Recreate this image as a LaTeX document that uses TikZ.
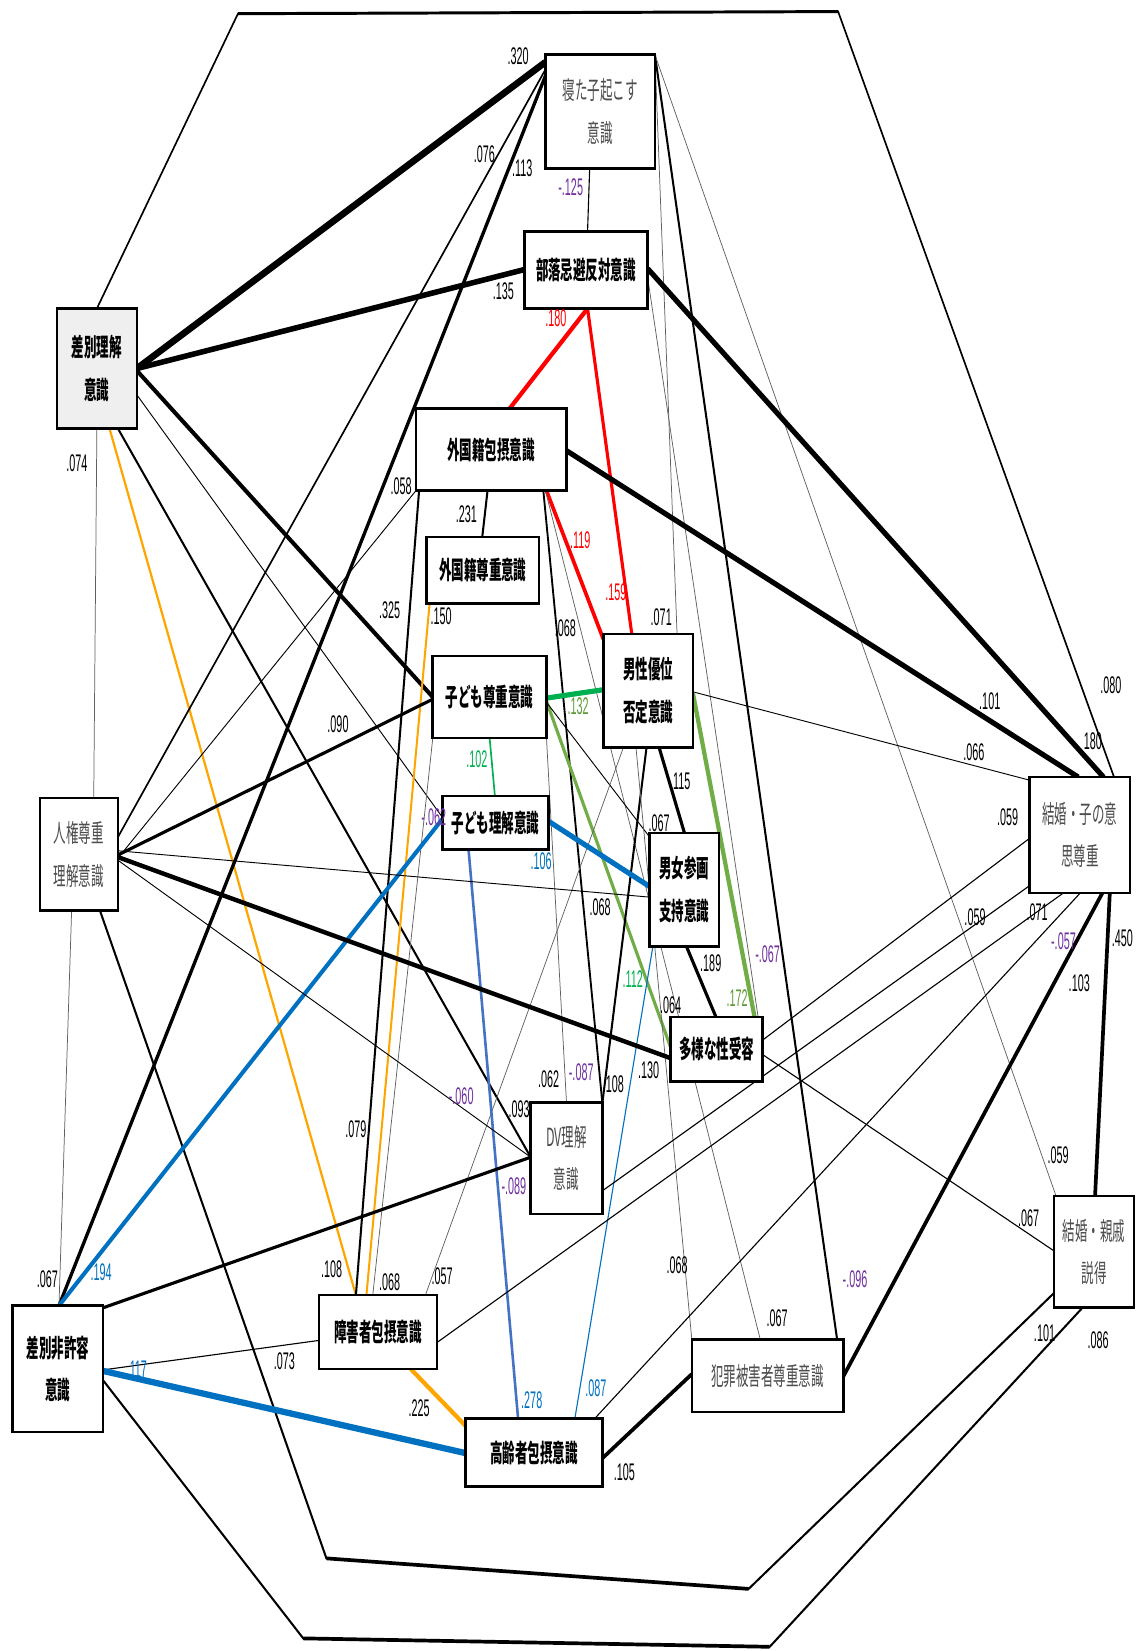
\documentclass[tikz,border=0pt]{standalone}
\usepackage{fontspec}
\newfontfamily\jpfont[FakeStretch=0.50]{Noto Sans CJK JP}
\newfontfamily\numfont[FakeStretch=0.45]{Liberation Sans}
\definecolor{cred}{HTML}{FF0000}
\definecolor{cgreen}{HTML}{00B050}
\definecolor{colive}{HTML}{70AD47}
\definecolor{colivelab}{HTML}{5E9C36}
\definecolor{cblue}{HTML}{0070C0}
\definecolor{cblue2}{HTML}{4472C4}
\definecolor{corange}{HTML}{FFA500}
\definecolor{cpurple}{HTML}{7030A0}
\definecolor{txtgray}{HTML}{4D4D4D}
\definecolor{fillgray}{HTML}{EFEFEF}
\definecolor{thingray}{HTML}{606060}
\pgfdeclarelayer{bg}
\pgfsetlayers{bg,main}
\begin{document}
\begin{tikzpicture}[x=0.02cm,y=-0.02cm,
 nbox/.style={draw, line width=1.4pt, fill=white, inner sep=0pt, outer sep=0pt, align=center, font=\jpfont\bfseries\fontsize{13.5pt}{23pt}\selectfont},
 gnbox/.style={nbox, font=\jpfont\fontsize{13.5pt}{23pt}\selectfont, text=txtgray},
 nlab/.style={inner sep=0pt, font=\numfont\fontsize{13pt}{15pt}\selectfont},
 plab/.style={nlab, text=cpurple},
 blab/.style={nlab, text=cblue},
 rlab/.style={nlab, text=cred},
 glab/.style={nlab, text=cgreen},
 olab/.style={nlab, text=colivelab}]
\useasboundingbox (0,0) rectangle (1082,1568);

% boxes
\node[gnbox, minimum width=2.08cm, minimum height=2.16cm] (n1) at (570,106) {寝た子起こす\\意識};
\node[nbox, minimum width=2.34cm, minimum height=1.46cm] (n2) at (556.5,256.5) {部落忌避反対意識};
\node[nbox, fill=fillgray, minimum width=1.52cm, minimum height=2.28cm] (n3) at (92,350) {差別理解\\意識};
\node[nbox, minimum width=2.86cm, minimum height=1.56cm] (n4) at (466.5,427) {外国籍包摂意識};
\node[nbox, minimum width=2.14cm, minimum height=1.26cm] (n5) at (458.5,541.5) {外国籍尊重意識};
\node[nbox, minimum width=2.16cm, minimum height=1.56cm] (n6) at (465,662) {子ども尊重意識};
\node[nbox, minimum width=1.70cm, minimum height=2.16cm] (n7) at (615.5,656) {男性優位\\否定意識};
\node[nbox, minimum width=2.02cm, minimum height=1.02cm] (n8) at (470.5,781.5) {子ども理解意識};
\node[nbox, minimum width=1.32cm, minimum height=2.16cm] (n9) at (650,845) {男女参画\\支持意識};
\node[nbox, minimum width=1.74cm, minimum height=1.22cm] (n10) at (680.5,996.5) {多様な性受容};
\node[gnbox, minimum width=1.48cm, minimum height=2.14cm] (n11) at (75,811.5) {人権尊重\\理解意識};
\node[gnbox, minimum width=1.36cm, minimum height=2.12cm] (n12) at (538,1100) {DV理解\\意識};
\node[gnbox, minimum width=1.90cm, minimum height=2.20cm] (n13) at (1025.5,793) {結婚・子の意\\思尊重};
\node[gnbox, minimum width=1.52cm, minimum height=2.12cm] (n14) at (1039,1189) {結婚・親戚\\説得};
\node[nbox, minimum width=1.72cm, minimum height=2.40cm] (n15) at (55,1300) {差別非許容\\意識};
\node[nbox, minimum width=2.24cm, minimum height=1.40cm] (n16) at (359,1265) {障害者包摂意識};
\node[nbox, minimum width=2.60cm, minimum height=1.30cm] (n17) at (507,1379.5) {高齢者包摂意識};
\node[gnbox, minimum width=2.88cm, minimum height=1.38cm] (n18) at (729,1306.5) {犯罪被害者尊重意識};

\coordinate (c1) at (226,13);
\coordinate (c2) at (796,11);
\coordinate (c3) at (310,1480);
\coordinate (c4) at (711,1509);
\coordinate (c5) at (288,1556);
\coordinate (c6) at (731,1564);

\begin{pgfonlayer}{bg}
% outer frames
\draw[line width=0.9pt] ([shift={(38,0)}]n3.north west) -- (c1) -- (c2) -- ([shift={(80,0)}]n13.north west);
\draw[line width=1.6pt] (c1) -- (c2);
\draw[line width=1.1pt] ([shift={(57,107)}]n11.north west) -- (c3) -- (c4) -- ([shift={(0,92)}]n14.north west);
\draw[line width=2pt] (c3) -- (c4);
\draw[line width=1.1pt] ([shift={(86,71)}]n15.north west) -- (c5) -- (c6) -- ([shift={(27,106)}]n14.north west);
\draw[line width=2pt] (c5) -- (c6);
% from n3
\draw[line width=3.6pt] ([shift={(76,57)}]n3.north west) -- ([shift={(0,7)}]n1.north west);
\draw[line width=3pt] ([shift={(76,57)}]n3.north west) -- ([shift={(0,36)}]n2.north west);
\draw[line width=2.2pt] ([shift={(76,59)}]n3.north west) -- ([shift={(0,39)}]n6.north west);
\draw[line width=0.5pt] ([shift={(76,82)}]n3.north west) -- ([shift={(0,20)}]n8.north west);
\draw[line width=1.1pt] ([shift={(58,114)}]n3.north west) -- ([shift={(0,52)}]n12.north west);
\draw[corange, line width=1.2pt] ([shift={(50,114)}]n3.north west) -- ([shift={(35,0)}]n16.north west);
\draw[thingray, line width=0.4pt] ([shift={(38,114)}]n3.north west) -- ([shift={(51,0)}]n11.north west);
% from n1
\draw[line width=0.9pt] ([shift={(0,14)}]n1.north west) -- ([shift={(74,37)}]n11.north west);
\draw[line width=1.8pt] ([shift={(0,20)}]n1.north west) -- ([shift={(44,0)}]n15.north west);
\draw[line width=0.6pt] ([shift={(42,108)}]n1.north west) -- ([shift={(60,0)}]n2.north west);
\draw[thingray, line width=0.4pt] (n1.north east) -- ([shift={(70,0)}]n7.north west);
\draw[line width=1.1pt] (n1.north east) -- ([shift={(138,0)}]n18.north west);
\draw[thingray, line width=0.4pt] (n1.north east) -- ([shift={(2,0)}]n14.north west);
% from n2
\draw[cred, line width=2.3pt] ([shift={(60,73)}]n2.north west) -- ([shift={(89,0)}]n4.north west);
\draw[cred, line width=1.7pt] ([shift={(60,73)}]n2.north west) -- ([shift={(27,0)}]n7.north west);
\draw[line width=2.8pt] ([shift={(117,35)}]n2.north west) -- ([shift={(70,0)}]n13.north west);
\draw[thingray, line width=0.4pt] ([shift={(117,43)}]n2.north west) -- ([shift={(83,0)}]n10.north west);
% from n4
\draw[line width=1.1pt] ([shift={(68,78)}]n4.north west) -- ([shift={(53,0)}]n5.north west);
\draw[cred, line width=2pt] ([shift={(124,78)}]n4.north west) -- ([shift={(0,5)}]n7.north west);
\draw[line width=1pt] ([shift={(121,78)}]n4.north west) -- ([shift={(68,0)}]n12.north west);
\draw[thingray, line width=0.4pt] ([shift={(123,78)}]n4.north west) -- ([shift={(65,0)}]n18.north west);
\draw[line width=2.8pt] ([shift={(143,40)}]n4.north west) -- ([shift={(46,0)}]n13.north west);
\draw[line width=0.5pt] ([shift={(0,78)}]n4.north west) -- ([shift={(74,57)}]n11.north west);
\draw[line width=1.1pt] ([shift={(3,78)}]n4.north west) -- ([shift={(35,0)}]n16.north west);
% from n5
\draw[corange, line width=1.1pt] ([shift={(3,63)}]n5.north west) -- ([shift={(45,0)}]n16.north west);
% from n6
\draw[cgreen, line width=2.8pt] ([shift={(108,40)}]n6.north west) -- ([shift={(0,53)}]n7.north west);
\draw[cgreen, line width=0.9pt] ([shift={(54,78)}]n6.north west) -- ([shift={(50,0)}]n8.north west);
\draw[colive, line width=1.7pt] ([shift={(108,43)}]n6.north west) -- ([shift={(0,29)}]n10.north west);
\draw[line width=0.5pt] ([shift={(108,44)}]n6.north west) -- ([shift={(0,4)}]n9.north west);
\draw[thingray, line width=0.4pt] ([shift={(108,78)}]n6.north west) -- ([shift={(34,0)}]n12.north west);
\draw[thingray, line width=0.4pt] ([shift={(0,78)}]n6.north west) -- ([shift={(51,0)}]n16.north west);
% from n7
\draw[line width=0.5pt] ([shift={(85,55)}]n7.north west) -- ([shift={(0,3)}]n13.north west);
\draw[colive, line width=2.3pt] ([shift={(85,56)}]n7.north west) -- ([shift={(80,2)}]n10.north west);
\draw[line width=1.7pt] ([shift={(53,108)}]n7.north west) -- ([shift={(33,0)}]n9.north west);
\draw[line width=1.1pt] ([shift={(41,108)}]n7.north west) -- ([shift={(68,1)}]n12.north west);
\draw[thingray, line width=0.4pt] ([shift={(19,108)}]n7.north west) -- ([shift={(101,0)}]n16.north west);
\draw[thingray, line width=0.4pt] ([shift={(31,108)}]n7.north west) -- (n18.north west);
% from n8, n9
\draw[cblue, line width=2.8pt] ([shift={(101,24)}]n8.north west) -- ([shift={(0,51)}]n9.north west);
\draw[cblue, line width=2.2pt] ([shift={(0,22)}]n8.north west) -- ([shift={(44,0)}]n15.north west);
\draw[cblue2, line width=1.4pt] ([shift={(25,51)}]n8.north west) -- ([shift={(50,0)}]n17.north west);
\draw[line width=1.7pt] ([shift={(35,108)}]n9.north west) -- ([shift={(43,0)}]n10.north west);
\draw[cblue, line width=0.6pt] ([shift={(3,108)}]n9.north west) -- ([shift={(104,0)}]n17.north west);
% from n11
\draw[line width=1.7pt] ([shift={(74,54)}]n11.north west) -- ([shift={(0,41)}]n6.north west);
\draw[line width=0.5pt] ([shift={(74,50)}]n11.north west) -- ([shift={(0,61)}]n9.north west);
\draw[line width=2.4pt] ([shift={(74,56)}]n11.north west) -- ([shift={(0,39)}]n10.north west);
\draw[line width=0.5pt] ([shift={(74,59)}]n11.north west) -- ([shift={(0,52)}]n12.north west);
\draw[thingray, line width=0.4pt] ([shift={(30,107)}]n11.north west) -- ([shift={(44,0)}]n15.north west);
% from n15
\draw[line width=1.7pt] ([shift={(86,2)}]n15.north west) -- ([shift={(0,52)}]n12.north west);
\draw[line width=0.6pt] ([shift={(86,61)}]n15.north west) -- ([shift={(0,43)}]n16.north west);
\draw[cblue, line width=3.4pt] ([shift={(86,62)}]n15.north west) -- ([shift={(0,33)}]n17.north west);
% others
\draw[corange, line width=2.3pt] ([shift={(87,70)}]n16.north west) -- ([shift={(0,7)}]n17.north west);
\draw[line width=0.6pt] ([shift={(112,45)}]n16.north west) -- ([shift={(32,110)}]n13.north west);
\draw[line width=0.6pt] ([shift={(68,84)}]n12.north west) -- ([shift={(0,103)}]n13.north west);
\draw[line width=0.6pt] ([shift={(0,58)}]n13.north west) -- ([shift={(87,22)}]n10.north west);
\draw[line width=0.6pt] ([shift={(48,110)}]n13.north west) -- ([shift={(123,0)}]n17.north west);
\draw[line width=2pt] ([shift={(69,110)}]n13.north west) -- ([shift={(144,35)}]n18.north west);
\draw[line width=2pt] ([shift={(76,110)}]n13.north west) -- ([shift={(39,0)}]n14.north west);
\draw[line width=0.6pt] ([shift={(0,52)}]n14.north west) -- ([shift={(85,34)}]n10.north west);
\draw[line width=2pt] ([shift={(130,38)}]n17.north west) -- ([shift={(0,33)}]n18.north west);
\end{pgfonlayer}

% labels
\node[nlab] (t1) at (492,53) {.320};
\node[nlab] (t2) at (460,146) {.076};
\node[nlab] (t3) at (496,160) {.113};
\node[plab] (t4) at (542,178) {-.125};
\node[nlab] (t5) at (478,277) {.135};
\node[rlab] (t6) at (528,302) {.180};
\node[nlab] (t7) at (73,440) {.074};
\node[nlab] (t8) at (381,462) {.058};
\node[nlab] (t9) at (443,488) {.231};
\node[rlab] (t10) at (551,513) {.119};
\node[rlab] (t11) at (585,562) {.159};
\node[nlab] (t12) at (419,585) {.150};
\node[nlab] (t13) at (370,580) {.325};
\node[nlab] (t14) at (537,597) {.068};
\node[nlab] (t15) at (628,586) {.071};
\node[nlab] (t16) at (940,666) {.101};
\node[nlab] (t17) at (1055,651) {.080};
\node[nlab] (t18) at (1038,704) {180};
\node[nlab] (t19) at (925,714) {.066};
\node[nlab] (t20) at (321,688) {.090};
\node[olab] (t21) at (549,671) {.132};
\node[glab] (t22) at (453,721) {.102};
\node[nlab] (t23) at (646,742) {.115};
\node[plab] (t24) at (412,776) {-.062};
\node[nlab] (t25) at (626,782) {.067};
\node[blab] (t26) at (514,818) {.106};
\node[nlab] (t27) at (957,776) {.059};
\node[nlab] (t28) at (570,862) {.068};
\node[nlab] (t29) at (985,866) {.071};
\node[nlab] (t30) at (926,871) {.059};
\node[plab] (t31) at (1010,894) {-.057};
\node[nlab] (t32) at (1066,891) {.450};
\node[nlab] (t33) at (675,915) {.189};
\node[plab] (t34) at (729,906) {-.067};
\node[nlab] (t35) at (1025,934) {.103};
\node[glab] (t36) at (601,930) {.112};
\node[olab] (t37) at (700,948) {.172};
\node[nlab] (t38) at (637,955) {.064};
\node[nlab] (t39) at (521,1025) {.062};
\node[plab] (t40) at (552,1018) {-.087};
\node[nlab] (t41) at (584,1030) {108};
\node[nlab] (t42) at (616,1016) {.130};
\node[plab] (t43) at (438,1041) {-.060};
\node[nlab] (t44) at (493,1053) {.093};
\node[nlab] (t45) at (338,1072) {.079};
\node[plab] (t46) at (488,1127) {-.089};
\node[nlab] (t47) at (1005,1097) {.059};
\node[nlab] (t48) at (977,1157) {.067};
\node[nlab] (t49) at (45,1215) {.067};
\node[blab] (t50) at (96,1208) {.194};
\node[nlab] (t51) at (315,1205) {.108};
\node[nlab] (t52) at (370,1218) {.068};
\node[nlab] (t53) at (420,1212) {.057};
\node[nlab] (t54) at (643,1202) {.068};
\node[nlab] (t55) at (738,1252) {.067};
\node[plab] (t56) at (812,1215) {-.096};
\node[nlab] (t57) at (270,1293) {.073};
\node[blab] (t58) at (130,1300) {.117};
\node[nlab] (t59) at (398,1337) {.225};
\node[blab] (t60) at (505,1330) {.278};
\node[blab] (t61) at (566,1318) {.087};
\node[nlab] (t62) at (992,1266) {.101};
\node[nlab] (t63) at (1043,1273) {.086};
\node[nlab] (t64) at (593,1398) {.105};
\end{tikzpicture}
\end{document}
